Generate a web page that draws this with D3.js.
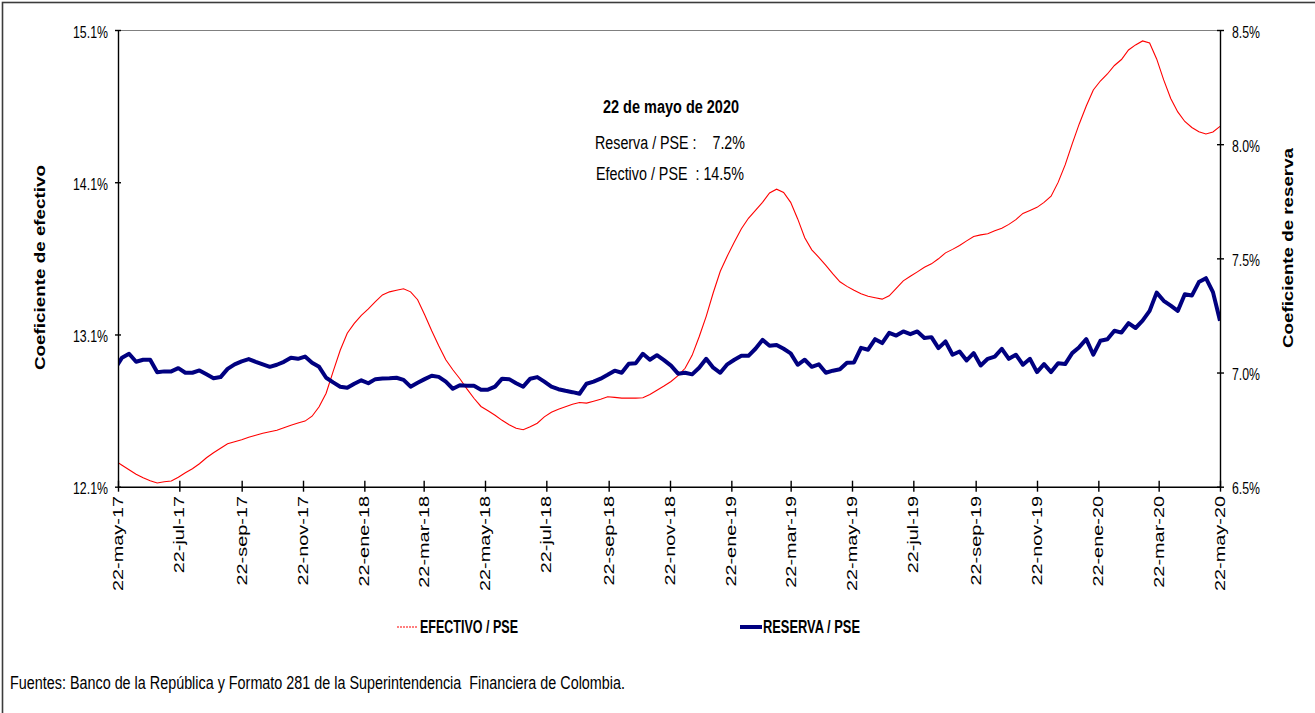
<!DOCTYPE html>
<html><head><meta charset="utf-8">
<script src="https://cdn.jsdelivr.net/npm/d3@7"></script>
<style>
body{margin:0;background:#fff}
text{font-family:"Liberation Sans",Arial,sans-serif;fill:#000}
</style>
</head><body>
<script>
// ---------- DATA ----------
const firstObservation = "2017-05-19";   // weekly observations (Fridays) up to 2020-05-22
const efectivo = [
 12.271,12.241,12.211,12.182,12.159,12.139,12.124,12.133,12.137,12.162,
 12.192,12.218,12.251,12.290,12.323,12.353,12.382,12.395,12.408,12.425,
 12.438,12.451,12.461,12.471,12.487,12.504,12.518,12.531,12.563,12.625,
 12.714,12.858,12.996,13.108,13.173,13.226,13.268,13.316,13.360,13.380,
 13.390,13.400,13.380,13.328,13.229,13.124,13.026,12.934,12.868,12.809,
 12.743,12.681,12.627,12.599,12.569,12.536,12.507,12.484,12.474,12.494,
 12.517,12.559,12.589,12.609,12.625,12.642,12.653,12.649,12.661,12.674,
 12.691,12.687,12.682,12.682,12.682,12.684,12.706,12.733,12.761,12.791,
 12.829,12.878,12.963,13.085,13.219,13.374,13.515,13.616,13.708,13.794,
 13.863,13.915,13.968,14.030,14.054,14.033,13.968,13.859,13.735,13.656,
 13.607,13.554,13.498,13.446,13.416,13.390,13.367,13.351,13.341,13.332,
 13.354,13.403,13.452,13.482,13.511,13.541,13.564,13.597,13.636,13.659,
 13.685,13.715,13.744,13.754,13.762,13.781,13.798,13.823,13.854,13.895,
 13.915,13.935,13.968,14.008,14.099,14.214,14.352,14.483,14.601,14.706,
 14.765,14.811,14.867,14.906,14.969,15.002,15.028,15.015,14.910,14.772,
 14.650,14.562,14.499,14.460,14.432,14.417,14.430,14.467
];
const reserva = [
 7.016,7.065,7.082,7.047,7.056,7.056,7.001,7.005,7.005,7.019,
 6.999,6.999,7.009,6.992,6.975,6.980,7.016,7.036,7.049,7.059,
 7.047,7.036,7.025,7.034,7.047,7.065,7.060,7.070,7.043,7.025,
 6.977,6.957,6.938,6.933,6.951,6.966,6.953,6.971,6.974,6.975,
 6.977,6.968,6.938,6.955,6.971,6.986,6.981,6.960,6.929,6.944,
 6.942,6.942,6.925,6.925,6.938,6.973,6.971,6.953,6.938,6.973,
 6.980,6.960,6.938,6.927,6.920,6.914,6.907,6.951,6.960,6.973,
 6.990,7.008,6.999,7.038,7.041,7.082,7.056,7.076,7.054,7.030,
 6.995,6.999,6.992,7.021,7.060,7.021,6.999,7.036,7.056,7.073,
 7.073,7.104,7.143,7.117,7.121,7.104,7.084,7.034,7.056,7.025,
 7.036,6.999,7.008,7.014,7.043,7.044,7.108,7.100,7.146,7.129,
 7.174,7.162,7.180,7.168,7.180,7.151,7.155,7.107,7.136,7.078,
 7.092,7.053,7.085,7.031,7.060,7.070,7.104,7.060,7.078,7.034,
 7.060,7.002,7.037,7.002,7.041,7.037,7.085,7.111,7.146,7.078,
 7.139,7.146,7.183,7.175,7.216,7.195,7.227,7.270,7.350,7.314,
 7.293,7.270,7.343,7.337,7.396,7.413,7.352,7.227
];
const tickDates = ["2017-05-22","2017-07-22","2017-09-22","2017-11-22","2018-01-22","2018-03-22",
 "2018-05-22","2018-07-22","2018-09-22","2018-11-22","2019-01-22","2019-03-22","2019-05-22",
 "2019-07-22","2019-09-22","2019-11-22","2020-01-22","2020-03-22","2020-05-22"];
const tickLabels = ["22-may-17","22-jul-17","22-sep-17","22-nov-17","22-ene-18","22-mar-18",
 "22-may-18","22-jul-18","22-sep-18","22-nov-18","22-ene-19","22-mar-19","22-may-19",
 "22-jul-19","22-sep-19","22-nov-19","22-ene-20","22-mar-20","22-may-20"];
const leftTicks = [12.1, 13.1, 14.1, 15.1];
const rightTicks = [6.5, 7.0, 7.5, 8.0, 8.5];
const seriesNames = ["EFECTIVO / PSE", "RESERVA / PSE"];
const axisTitles = ["Coeficiente de efectivo", "Coeficiente de reserva"];
const noteTitle = "22 de mayo de 2020";
const noteLines = ["Reserva / PSE :    7.2%", "Efectivo / PSE  : 14.5%"];
const source = "Fuentes: Banco de la República y Formato 281 de la Superintendencia  Financiera de Colombia.";

// ---------- CHART ----------
const W = 1315, H = 713;
const P = {left:118, right:1220, top:30, bottom:486.7};
const parse = d3.timeParse("%Y-%m-%d");
const dates = efectivo.map((_, i) => d3.timeDay.offset(parse(firstObservation), 7 * i));

const svg = d3.select("body").append("svg").attr("width", W).attr("height", H);
svg.append("rect").attr("width", W).attr("height", H).attr("fill", "#fff");

const x = d3.scaleTime()
  .domain([parse(tickDates[0]), parse(tickDates[tickDates.length - 1])])
  .range([P.left, P.right]);
const yL = d3.scaleLinear().domain([12.1, 15.1]).range([P.bottom, P.top]);
const yR = d3.scaleLinear().domain([6.5, 8.5]).range([P.bottom, P.top]);

// outer frame
svg.append("rect").attr("x", 2.5).attr("y", 2.5).attr("width", 1340).attr("height", 740)
  .attr("fill", "none").attr("stroke", "#3c3c3c").attr("stroke-width", 1.6);

// top border of plot area
svg.append("line").attr("x1", P.left).attr("x2", P.right).attr("y1", P.top + 0.5).attr("y2", P.top + 0.5)
  .attr("stroke", "#808080").attr("stroke-width", 1);

// clip
svg.append("clipPath").attr("id", "plotclip").append("rect")
  .attr("x", P.left).attr("y", 0).attr("width", P.right - P.left).attr("height", H);

const lineL = d3.line().x((d, i) => x(dates[i])).y(d => yL(d));
const lineR = d3.line().x((d, i) => x(dates[i])).y(d => yR(d));

const plot = svg.append("g").attr("clip-path", "url(#plotclip)");
plot.append("path").datum(efectivo).attr("d", lineL)
  .attr("fill", "none").attr("stroke", "#ff0000").attr("stroke-width", 1.1);
plot.append("path").datum(reserva).attr("d", lineR)
  .attr("fill", "none").attr("stroke", "#000080").attr("stroke-width", 4)
  .attr("stroke-linejoin", "round").attr("stroke-linecap", "butt");

// axes
function styleAxis(g) {
  g.select(".domain").attr("stroke", "#000").attr("stroke-width", 1.4);
  g.selectAll(".tick line").attr("stroke", "#000").attr("stroke-width", 1.4);
}
const gl = svg.append("g").attr("transform", `translate(${P.left},0)`)
  .call(d3.axisLeft(yL).tickValues(leftTicks).tickSizeInner(3).tickSizeOuter(0).tickFormat(""));
gl.selectAll(".tick line").attr("x1", 3);
styleAxis(gl);

const gr = svg.append("g").attr("transform", `translate(${P.right},0)`)
  .call(d3.axisRight(yR).tickValues(rightTicks).tickSizeInner(4).tickSizeOuter(0).tickFormat(""));
gr.selectAll(".tick line").attr("x1", -3);
styleAxis(gr);

const gb = svg.append("g").attr("transform", `translate(0,${P.bottom})`)
  .call(d3.axisBottom(x).tickValues(tickDates.map(parse)).tickSizeInner(5).tickSizeOuter(0).tickFormat(""));
gb.selectAll(".tick line").attr("y1", -6);
styleAxis(gb);

// tick labels
const fmt = d3.format(".1f");
svg.append("g").selectAll("text").data(leftTicks).join("text")
  .attr("x", 73).attr("y", d => yL(d) + 7.5)
  .attr("font-size", 16).attr("textLength", 35).attr("lengthAdjust", "spacingAndGlyphs")
  .text(d => fmt(d) + "%");
svg.append("g").selectAll("text").data(rightTicks).join("text")
  .attr("x", 1232).attr("y", d => yR(d) + 7.5)
  .attr("font-size", 16).attr("textLength", 28).attr("lengthAdjust", "spacingAndGlyphs")
  .text(d => fmt(d) + "%");
svg.append("g").selectAll("text").data(tickDates).join("text")
  .attr("transform", d => `translate(${x(parse(d)) + 5},496) rotate(-90) scale(1.42,1)`)
  .attr("text-anchor", "end").attr("font-size", 14)
  .text((d, i) => tickLabels[i]);

// axis titles
svg.append("text").attr("transform", "translate(45,267.5) rotate(-90)")
  .attr("text-anchor", "middle").attr("font-size", 14).attr("font-weight", "bold")
  .attr("textLength", 205).attr("lengthAdjust", "spacingAndGlyphs").text(axisTitles[0]);
svg.append("text").attr("transform", "translate(1293,248) rotate(-90)")
  .attr("text-anchor", "middle").attr("font-size", 14).attr("font-weight", "bold")
  .attr("textLength", 200).attr("lengthAdjust", "spacingAndGlyphs").text(axisTitles[1]);

// annotation
function txt(xp, yp, s, size, len, bold) {
  const t = svg.append("text").attr("x", xp).attr("y", yp).attr("font-size", size)
    .style("white-space", "pre").text(s);
  if (bold) t.attr("font-weight", "bold");
  if (len) t.attr("textLength", len).attr("lengthAdjust", "spacingAndGlyphs");
  return t;
}
txt(603, 113, noteTitle, 17.5, 136, true);
txt(595, 149, noteLines[0], 18, 150);
txt(596, 180, noteLines[1], 18, 148);

// legend
svg.append("line").attr("x1", 397).attr("x2", 418).attr("y1", 627).attr("y2", 627)
  .attr("stroke", "#ff0000").attr("stroke-width", 1.2).attr("stroke-dasharray", "2,1");
txt(420, 633, seriesNames[0], 17.5, 98, true);
svg.append("line").attr("x1", 740).attr("x2", 762).attr("y1", 627).attr("y2", 627)
  .attr("stroke", "#000080").attr("stroke-width", 4);
txt(763, 633, seriesNames[1], 17.5, 97, true);

// source
txt(10, 689, source, 17.5, 615);
</script>
</body></html>
